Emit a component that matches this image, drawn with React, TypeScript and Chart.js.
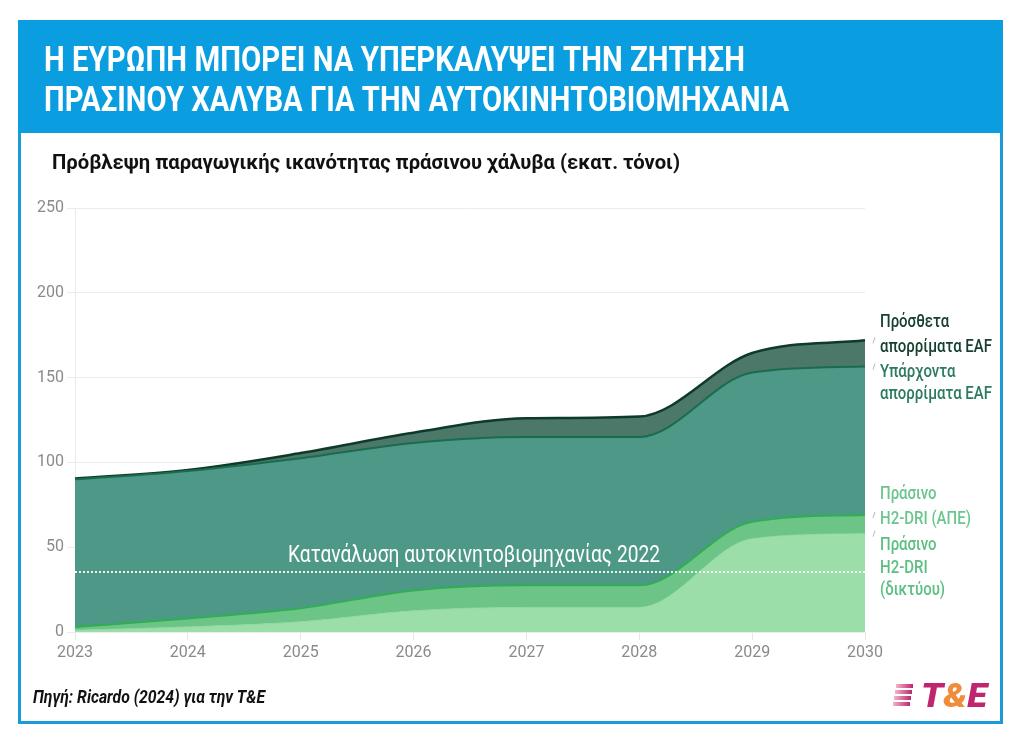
import React, { useEffect, useRef } from 'react';
import { Chart, registerables } from 'chart.js';

Chart.register(...registerables);

// ---- data (millions of tonnes, stacked layers) ----
const YEARS = ['2023', '2024', '2025', '2026', '2027', '2028', '2029', '2030'];
const H2_DRI_GRID = [1, 3, 6, 12.5, 14.5, 14.5, 55, 58];
const H2_DRI_RES = [2, 5, 8, 12, 13, 13, 10, 11];
const EAF_EXISTING = [87, 87, 88.5, 87, 87.5, 87.5, 88, 87.5];
const EAF_ADDITIONAL = [0.5, 0.5, 3, 6, 11, 12, 11.5, 15.5];
const AUTO_CONSUMPTION_2022 = 35.4;
const Y_MIN = 0;
const Y_MAX = 250;
const Y_STEP = 50;

const TITLE_LINES = [
  'Η ΕΥΡΩΠΗ ΜΠΟΡΕΙ ΝΑ ΥΠΕΡΚΑΛΥΨΕΙ ΤΗΝ ΖΗΤΗΣΗ',
  'ΠΡΑΣΙΝΟΥ ΧΑΛΥΒΑ ΓΙΑ ΤΗΝ ΑΥΤΟΚΙΝΗΤΟΒΙΟΜΗΧΑΝΙΑ',
];
const SUBTITLE = 'Πρόβλεψη παραγωγικής ικανότητας πράσινου χάλυβα (εκατ. τόνοι)';
const SOURCE = 'Πηγή: Ricardo (2024) για την T&E';
const REF_LABEL = 'Κατανάλωση αυτοκινητοβιομηχανίας 2022';

const C_GRID_FILL = '#9bdea9';
const C_RES_FILL = '#6cc487';
const C_EXIST_FILL = '#4e9888';
const C_ADD_FILL = '#4b7869';

let measureCtx: CanvasRenderingContext2D | null = null;
function textWidth(text: string, font: string) {
  if (!measureCtx) measureCtx = document.createElement('canvas').getContext('2d');
  measureCtx!.font = font;
  return measureCtx!.measureText(text).width;
}
function fontStr(size: number, weight: number, italic: boolean) {
  return `${italic ? 'italic ' : ''}${weight} ${size}px Roboto`;
}

type LineProps = {
  text: React.ReactNode;
  plain: string;
  x: number;
  capTop: number;
  size: number;
  weight?: number;
  italic?: boolean;
  color: string;
  width?: number;
  scale?: number;
};

function TextLine({ text, plain, x, capTop, size, weight = 400, italic = false, color, width, scale }: LineProps) {
  const f = fontStr(size, weight, italic);
  const sx = width ? width / textWidth(plain, f) : scale ?? 1;
  return (
    <div
      style={{
        position: 'absolute',
        left: x,
        top: capTop - 0.131 * size,
        fontFamily: 'Roboto',
        fontSize: size,
        fontWeight: weight,
        fontStyle: italic ? 'italic' : 'normal',
        lineHeight: `${size}px`,
        color,
        whiteSpace: 'nowrap',
        transform: `scaleX(${sx})`,
        transformOrigin: '0 0',
      }}
    >
      {text}
    </div>
  );
}

export default function App() {
  const ref = useRef<HTMLCanvasElement>(null);

  useEffect(() => {
    const refLine = {
      id: 'refLine',
      afterDatasetsDraw(chart: any) {
        const { ctx, chartArea, scales } = chart;
        const y = scales.y.getPixelForValue(AUTO_CONSUMPTION_2022);
        ctx.save();
        ctx.strokeStyle = 'rgba(255,255,255,0.9)';
        ctx.lineWidth = 2;
        ctx.setLineDash([2, 2]);
        ctx.beginPath();
        ctx.moveTo(chartArea.left, y);
        ctx.lineTo(chartArea.right, y);
        ctx.stroke();
        ctx.setLineDash([]);
        // small leader marks at series ends
        ctx.strokeStyle = '#b8b8b8';
        ctx.lineWidth = 1;
        chart.data.datasets.forEach((_: any, i: number) => {
          const meta = chart.getDatasetMeta(i);
          const pt = meta.data[meta.data.length - 1];
          if (!pt) return;
          const py = pt.y;
          ctx.beginPath();
          ctx.moveTo(chartArea.right + 8, py + 3);
          ctx.lineTo(chartArea.right + 10, py - 3);
          ctx.stroke();
        });
        ctx.restore();
      },
    };

    const tickFont = { family: 'Roboto', size: 16 };
    const chart = new Chart(ref.current as HTMLCanvasElement, {
      type: 'line',
      data: {
        labels: YEARS,
        datasets: [
          {
            label: 'Πράσινο H2-DRI (δικτύου)',
            data: H2_DRI_GRID,
            backgroundColor: C_GRID_FILL,
            borderColor: '#8fd8a0',
            borderWidth: 1,
            fill: 'origin',
          },
          {
            label: 'Πράσινο H2-DRI (ΑΠΕ)',
            data: H2_DRI_RES,
            backgroundColor: C_RES_FILL,
            borderColor: '#2fae52',
            borderWidth: 2,
            fill: '-1',
          },
          {
            label: 'Υπάρχοντα απορρίματα EAF',
            data: EAF_EXISTING,
            backgroundColor: C_EXIST_FILL,
            borderColor: '#1b6b4e',
            borderWidth: 2,
            fill: '-1',
          },
          {
            label: 'Πρόσθετα απορρίματα EAF',
            data: EAF_ADDITIONAL,
            backgroundColor: C_ADD_FILL,
            borderColor: '#0f3a29',
            borderWidth: 2.5,
            fill: '-1',
          },
        ],
      },
      options: {
        animation: false,
        responsive: false,
        devicePixelRatio: 1,
        layout: { padding: { left: 0, right: 159, top: 208, bottom: 80 } },
        plugins: { legend: { display: false }, tooltip: { enabled: false } },
        elements: {
          point: { radius: 0 },
          line: { cubicInterpolationMode: 'monotone' },
        },
        scales: {
          x: {
            grid: { color: '#e6e6e6', tickLength: 8, drawOnChartArea: false },
            border: { color: '#ebebeb' },
            ticks: { color: '#8a8a8a', font: tickFont, padding: 3, maxRotation: 0, autoSkip: false },
            afterFit: (s: any) => {
              s.height = 40;
            },
          },
          y: {
            stacked: true,
            min: Y_MIN,
            max: Y_MAX,
            grid: { color: '#ebebeb', tickLength: 8 },
            border: { color: '#ebebeb' },
            ticks: { stepSize: Y_STEP, color: '#8a8a8a', font: tickFont, padding: 3 },
            afterFit: (s: any) => {
              s.width = 75;
            },
          },
        },
      },
      plugins: [refLine],
    } as any);
    return () => chart.destroy();
  }, []);

  const lblFont = fontStr(17.5, 500, false);
  const lblScale = 112 / textWidth('απορρίματα EAF', lblFont);

  return (
    <div
      style={{
        position: 'fixed',
        left: 0,
        top: 0,
        width: 1024,
        height: 752,
        background: '#ffffff',
        overflow: 'hidden',
        fontFamily: 'Roboto',
      }}
    >
      <div style={{ position: 'absolute', left: 18, top: 20, width: 985, height: 113, background: '#0a9ee0' }} />
      <div
        style={{
          position: 'absolute',
          left: 18,
          top: 133,
          width: 985,
          height: 591,
          boxSizing: 'border-box',
          border: '3px solid #1a9ad6',
          borderTop: 'none',
        }}
      />
      <canvas ref={ref} width={1024} height={752} style={{ position: 'absolute', left: 0, top: 0 }} />

      <TextLine text={TITLE_LINES[0]} plain={TITLE_LINES[0]} x={44} capTop={47} size={35} weight={700} color="#ffffff" width={701} />
      <TextLine text={TITLE_LINES[1]} plain={TITLE_LINES[1]} x={44} capTop={87} size={35} weight={700} color="#ffffff" width={745} />

      <TextLine text={SUBTITLE} plain={SUBTITLE} x={52} capTop={155} size={21} weight={700} color="#111111" width={628} />

      <TextLine text={REF_LABEL} plain={REF_LABEL} x={288} capTop={545} size={24} weight={400} color="#ffffff" width={372} />

      <TextLine text="Πρόσθετα" plain="Πρόσθετα" x={880} capTop={315} size={17.5} weight={500} color="#17402f" scale={lblScale} />
      <TextLine text="απορρίματα EAF" plain="απορρίματα EAF" x={880} capTop={340} size={17.5} weight={500} color="#17402f" scale={lblScale} />
      <TextLine text="Υπάρχοντα" plain="Υπάρχοντα" x={880} capTop={365} size={17.5} weight={500} color="#2c7a62" scale={lblScale} />
      <TextLine text="απορρίματα EAF" plain="απορρίματα EAF" x={880} capTop={387} size={17.5} weight={500} color="#2c7a62" scale={lblScale} />
      <TextLine text="Πράσινο" plain="Πράσινο" x={880} capTop={487} size={17.5} weight={500} color="#6cc58e" scale={lblScale} />
      <TextLine text="H2-DRI (ΑΠΕ)" plain="H2-DRI (ΑΠΕ)" x={880} capTop={512} size={17.5} weight={500} color="#6cc58e" scale={lblScale} />
      <TextLine text="Πράσινο" plain="Πράσινο" x={880} capTop={538} size={17.5} weight={500} color="#5cbf82" scale={lblScale} />
      <TextLine text="H2-DRI" plain="H2-DRI" x={880} capTop={561} size={17.5} weight={500} color="#5cbf82" scale={lblScale} />
      <TextLine text="(δικτύου)" plain="(δικτύου)" x={880} capTop={583} size={17.5} weight={500} color="#5cbf82" scale={lblScale} />

      <TextLine text={SOURCE} plain={SOURCE} x={33} capTop={689} size={19} weight={700} italic color="#111111" width={232} />

      {/* T&E logo */}
      {[0, 1, 2, 3].map((i) => (
        <div
          key={i}
          style={{
            position: 'absolute',
            left: 896 - i,
            top: 684 + i * 6,
            width: 17,
            height: 3.5,
            background: 'linear-gradient(90deg, #f3b3ca, #c0266d)',
          }}
        />
      ))}
      <TextLine
        text={
          <>
            <span style={{ color: '#c0266d' }}>T</span>
            <span style={{ color: '#f08c3a' }}>&amp;</span>
            <span style={{ color: '#c0266d' }}>E</span>
          </>
        }
        plain="T&E"
        x={921}
        capTop={682}
        size={34}
        weight={900}
        italic
        color="#c0266d"
        width={66}
      />
    </div>
  );
}
